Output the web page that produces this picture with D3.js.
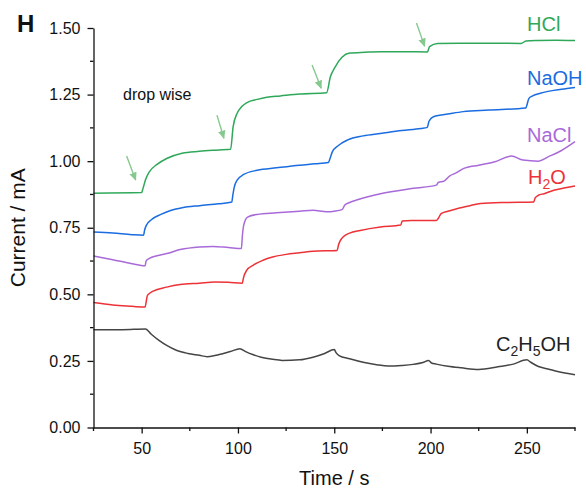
<!DOCTYPE html>
<html lang="en">
  <head>
    <script src="https://cdn.jsdelivr.net/npm/d3@7"></script>
    <style>
      body {
        margin: 0;
        background: #fff;
      }
      svg {
        font-family: Arial, 'Liberation Sans', sans-serif;
      }
      .axis text {
        font-size: 16px;
        fill: #111;
      }
      .axis path,
      .axis line {
        stroke: #111;
        stroke-width: 1.3;
      }
    </style>
  </head>
  <body>
    <svg></svg>
  </body>
  <script>

    // Tick values
    const xTicks = [50, 100, 150, 200, 250];
    const xMinor = [25, 75, 125, 175, 225, 275];
    const yTicks = [0, 0.25, 0.5, 0.75, 1.0, 1.25, 1.5];
    const yMinor = [0.125, 0.375, 0.625, 0.875, 1.125, 1.375];

    // HCl
    const hclT = [25, 50, 50.6, 52, 54, 58, 63, 71, 80, 90, 96.2, 97.5, 99.6, 102, 104.7, 110, 115, 122, 132, 146, 148, 150.5, 154, 158, 166, 174, 186, 198.4, 199.5, 203.6, 215, 230, 247, 249.5, 256, 265, 275];
    const hclV = [0.88, 0.882, 0.895, 0.93, 0.96, 0.988, 1.01, 1.03, 1.037, 1.042, 1.045, 1.13, 1.18, 1.205, 1.22, 1.232, 1.24, 1.245, 1.252, 1.257, 1.317, 1.354, 1.39, 1.406, 1.409, 1.411, 1.411, 1.41, 1.43, 1.442, 1.443, 1.443, 1.442, 1.451, 1.453, 1.454, 1.453];

    // NaOH
    const naohT = [25, 35, 45, 51, 51.5, 52.5, 55, 60, 65, 71, 80, 90, 96.8, 97.3, 98, 99.6, 103, 110, 120, 132, 140, 147, 147.8, 149, 152, 157, 165, 174, 185, 195, 198.3, 199.2, 201.5, 210, 217, 230, 249.5, 250.2, 251, 253, 257, 261, 268, 275];
    const naohV = [0.734, 0.73, 0.724, 0.722, 0.74, 0.76, 0.78, 0.8, 0.815, 0.825, 0.833, 0.84, 0.847, 0.87, 0.9, 0.929, 0.95, 0.966, 0.975, 0.985, 0.99, 0.995, 1.01, 1.035, 1.058, 1.08, 1.095, 1.104, 1.115, 1.123, 1.127, 1.15, 1.167, 1.178, 1.186, 1.192, 1.2, 1.215, 1.235, 1.245, 1.255, 1.262, 1.27, 1.277];

    // NaCl
    const naclT = [25, 35, 45, 51.8, 52.3, 54, 58, 63, 70, 80, 87, 95, 101.8, 102.3, 103, 105, 110, 120, 132, 139, 146, 150, 154, 155.5, 158, 162, 174, 191, 203, 204, 207, 210, 213, 217, 225, 233, 242, 248, 256, 261, 268, 275];
    const naclV = [0.644, 0.63, 0.615, 0.607, 0.625, 0.635, 0.645, 0.653, 0.668, 0.678, 0.68, 0.676, 0.672, 0.72, 0.76, 0.79, 0.8, 0.806, 0.812, 0.816, 0.81, 0.812, 0.818, 0.835, 0.845, 0.855, 0.878, 0.898, 0.91, 0.92, 0.925, 0.945, 0.955, 0.972, 0.985, 0.997, 1.019, 1.004, 1.0, 1.016, 1.04, 1.073];

    // H2O
    const h2oT = [25, 35, 45, 51.8, 52.3, 53, 56, 63, 70, 80, 88, 95, 102.3, 102.8, 104.5, 108, 113, 118, 125, 132, 139, 151.5, 152.2, 153, 154.7, 158, 163.5, 174, 184.5, 185.3, 190, 203, 204, 205.5, 209, 214, 220, 226, 240, 253.6, 254.3, 256, 259, 264, 270, 275];
    const h2oV = [0.469, 0.46, 0.455, 0.452, 0.47, 0.496, 0.512, 0.527, 0.537, 0.542, 0.546, 0.545, 0.542, 0.56, 0.59, 0.61, 0.628, 0.64, 0.65, 0.656, 0.662, 0.665, 0.685, 0.7, 0.716, 0.73, 0.74, 0.753, 0.76, 0.775, 0.777, 0.777, 0.785, 0.803, 0.812, 0.822, 0.832, 0.841, 0.845, 0.847, 0.862, 0.872, 0.878, 0.891, 0.9, 0.907];

    // C2H5OH
    const etohT = [25, 40, 52, 55, 59, 63, 68, 74, 80, 84, 88, 92, 96, 101, 104, 108, 112, 118, 123, 132, 139, 145, 150, 151, 152.5, 158, 165, 172, 178, 185, 191, 196, 199, 200.5, 203, 209, 216, 225, 235, 243, 250, 252, 256, 261, 266, 275];
    const etohV = [0.367, 0.367, 0.37, 0.35, 0.327, 0.308, 0.29, 0.278, 0.271, 0.266, 0.27, 0.277, 0.285, 0.296, 0.285, 0.273, 0.264, 0.256, 0.252, 0.254, 0.264, 0.278, 0.293, 0.28, 0.27, 0.258, 0.245, 0.236, 0.231, 0.233, 0.237, 0.244, 0.252, 0.242, 0.238, 0.23, 0.224, 0.218, 0.228, 0.238, 0.254, 0.245, 0.229, 0.22, 0.21, 0.198];

    // drop arrows: tail (t, v) -> tip (t, v)
    const arrowFromT = [42.2, 89.1, 138.5, 192.7];
    const arrowFromV = [1.019, 1.173, 1.361, 1.519];
    const arrowToT = [46.9, 92.7, 143.2, 196.9];
    const arrowToV = [0.929, 1.086, 1.274, 1.432];

    const width = 586;
    const height = 489;
    const margin = { top: 28, right: 11, bottom: 61.5, left: 93.5 };

    const svg = d3.select('svg')
        .attr('width', width)
        .attr('height', height);

    const x = d3.scaleLinear()
        .domain([25, 275])
        .range([margin.left, width - margin.right]);
    const y = d3.scaleLinear()
        .domain([0, 1.5])
        .range([height - margin.bottom, margin.top]);

    const series = [
      { name: 'HCl', t: hclT, v: hclV, color: '#2fa85a' },
      { name: 'NaOH', t: naohT, v: naohV, color: '#1a6ce0' },
      { name: 'NaCl', t: naclT, v: naclV, color: '#a96ad9' },
      { name: 'H2O', t: h2oT, v: h2oV, color: '#ec3237' },
      { name: 'C2H5OH', t: etohT, v: etohV, color: '#454545' }
    ];

    const line = d3.line()
        .x(d => x(d[0]))
        .y(d => y(d[1]))
        .curve(d3.curveMonotoneX);

    svg.selectAll('path.series')
        .data(series)
      .enter().append('path')
        .attr('class', 'series')
        .attr('fill', 'none')
        .attr('stroke', d => d.color)
        .attr('stroke-width', 1.5)
        .attr('d', d => line(d.t.map((t, i) => [t, d.v[i]])));

    // Axes
    const xAxis = svg.append('g')
        .attr('class', 'axis')
        .attr('transform', 'translate(0,' + y(0) + ')')
        .call(d3.axisBottom(x).tickValues(xTicks).tickSize(6).tickPadding(9).tickSizeOuter(0));
    xAxis.selectAll('.minor')
        .data(xMinor)
      .enter().append('line')
        .attr('x1', d => x(d)).attr('x2', d => x(d))
        .attr('y1', 0).attr('y2', 3.5);

    const yAxis = svg.append('g')
        .attr('class', 'axis')
        .attr('transform', 'translate(' + x(25) + ',0)')
        .call(d3.axisLeft(y).tickValues(yTicks).tickFormat(d3.format('.2f')).tickSize(6).tickPadding(7).tickSizeOuter(0));
    yAxis.selectAll('.minor')
        .data(yMinor)
      .enter().append('line')
        .attr('x1', 0).attr('x2', -3.5)
        .attr('y1', d => y(d)).attr('y2', d => y(d));

    // Arrows
    svg.append('defs').append('marker')
        .attr('id', 'head')
        .attr('viewBox', '0 0 10 10')
        .attr('refX', 9).attr('refY', 5)
        .attr('markerWidth', 6).attr('markerHeight', 6)
        .attr('orient', 'auto')
      .append('path')
        .attr('d', 'M0,0.5 L10,5 L0,9.5 Z')
        .attr('fill', '#86c98e');

    svg.selectAll('line.arrow')
        .data(arrowFromT)
      .enter().append('line')
        .attr('class', 'arrow')
        .attr('x1', (d, i) => x(d))
        .attr('y1', (d, i) => y(arrowFromV[i]))
        .attr('x2', (d, i) => x(arrowToT[i]))
        .attr('y2', (d, i) => y(arrowToV[i]))
        .attr('stroke', '#86c98e')
        .attr('stroke-width', 1.4)
        .attr('marker-end', 'url(#head)');

    // Series labels
    const lab = svg.append('g').style('font-size', '20px');
    lab.append('text').attr('x', 527).attr('y', 31).attr('fill', series[0].color).text('HCl');
    lab.append('text').attr('x', 527).attr('y', 85).attr('fill', series[1].color).text('NaOH');
    lab.append('text').attr('x', 527).attr('y', 142).attr('fill', series[2].color).text('NaCl');
    const h2o = lab.append('text').attr('x', 528).attr('y', 184).attr('fill', series[3].color);
    h2o.append('tspan').text('H');
    h2o.append('tspan').attr('dy', 5).style('font-size', '14px').text('2');
    h2o.append('tspan').attr('dy', -5).text('O');
    const et = lab.append('text').attr('x', 496).attr('y', 351).attr('fill', '#222');
    et.append('tspan').text('C');
    et.append('tspan').attr('dy', 5).style('font-size', '14px').text('2');
    et.append('tspan').attr('dy', -5).text('H');
    et.append('tspan').attr('dy', 5).style('font-size', '14px').text('5');
    et.append('tspan').attr('dy', -5).text('OH');

    svg.append('text')
        .attr('x', 123).attr('y', 100)
        .style('font-size', '16px')
        .attr('fill', '#111')
        .text('drop wise');

    // Titles
    svg.append('text')
        .attr('x', (x.range()[0] + x.range()[1]) / 2)
        .attr('y', 485)
        .attr('text-anchor', 'middle')
        .style('font-size', '20px')
        .attr('fill', '#111')
        .text('Time / s');

    svg.append('text')
        .attr('transform', 'translate(25,' + (y.range()[0] + y.range()[1]) / 2 + ') rotate(-90)')
        .attr('text-anchor', 'middle')
        .style('font-size', '21px')
        .attr('fill', '#111')
        .text('Current / mA');

    svg.append('text')
        .attr('x', 17).attr('y', 32)
        .style('font-size', '24px')
        .style('font-weight', 'bold')
        .attr('fill', '#111')
        .text('H');
  </script>
</html>
